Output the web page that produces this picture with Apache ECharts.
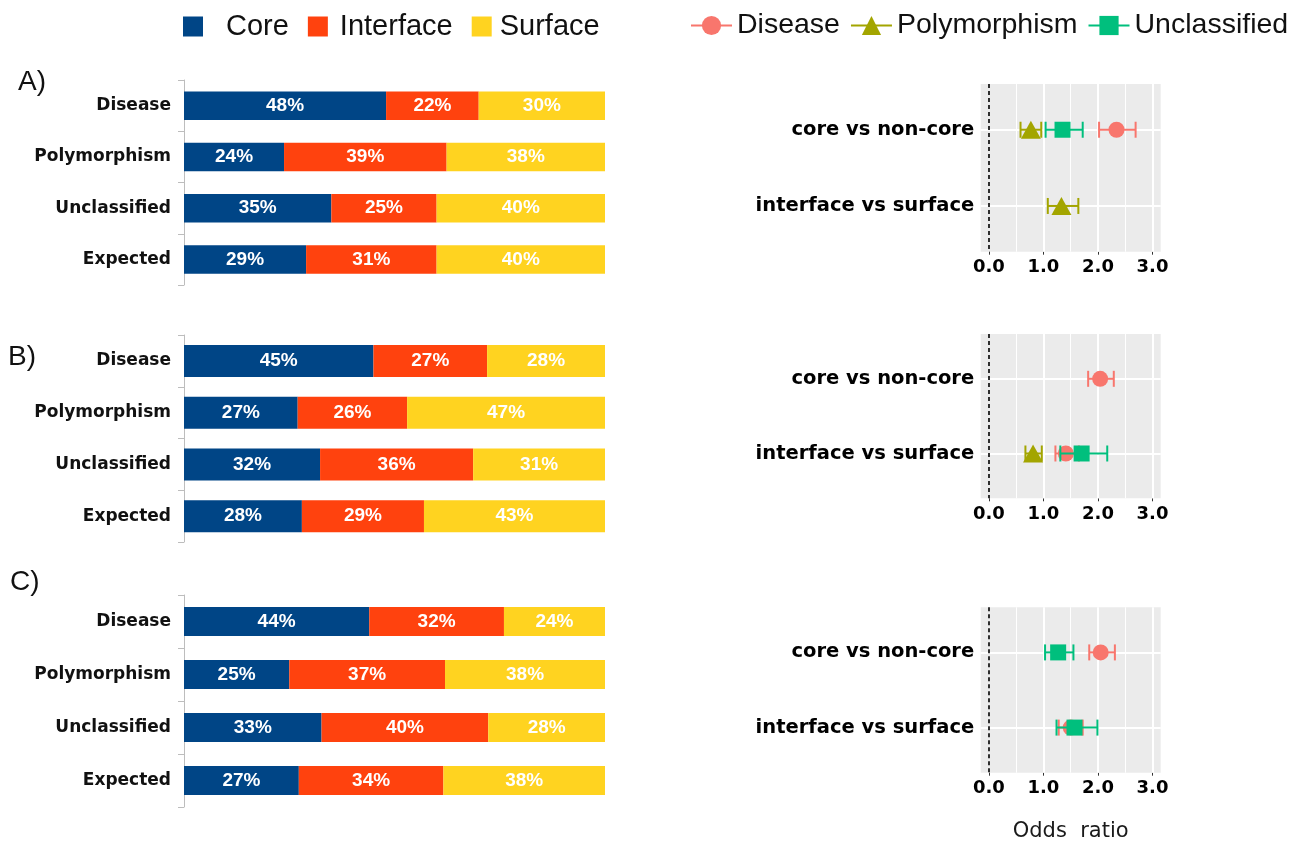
<!DOCTYPE html>
<html>
<head>
<meta charset="utf-8">
<title>Structural location and odds ratios</title>
<script src="https://cdn.jsdelivr.net/npm/echarts@6/dist/echarts.min.js"></script>
<style>
  html, body { margin: 0; padding: 0; background: #ffffff; }
  #chart { width: 1304px; height: 841px; }
</style>
</head>
<body>
<div id="chart"></div>
<script>
// Variant classes and structural locations
const barCategories = ['Disease', 'Polymorphism', 'Unclassified', 'Expected'];
const locationNames = ['Core', 'Interface', 'Surface'];

// A) share of each location (%)
const coreA = [48, 24, 35, 29];
const interfaceA = [22, 39, 25, 31];
const surfaceA = [30, 38, 40, 40];

// B) share of each location (%)
const coreB = [45, 27, 32, 28];
const interfaceB = [27, 26, 36, 29];
const surfaceB = [28, 47, 31, 43];

// C) share of each location (%)
const coreC = [44, 25, 33, 27];
const interfaceC = [32, 37, 40, 34];
const surfaceC = [24, 38, 28, 38];

// Odds ratios per comparison: [odds ratio, lower CI, upper CI], null when not shown
const comparisons = ['core vs non-core', 'interface vs surface'];
const oddsTicks = [0, 1, 2, 3];
const groupNames = ['Disease', 'Polymorphism', 'Unclassified'];

const diseaseA = [[2.34, 2.02, 2.69], null];
const polymorphismA = [[0.77, 0.58, 0.96], [1.33, 1.08, 1.64]];
const unclassifiedA = [[1.35, 1.04, 1.72], null];

const diseaseB = [[2.04, 1.82, 2.29], [1.41, 1.22, 1.65]];
const polymorphismB = [null, [0.81, 0.67, 0.97]];
const unclassifiedB = [null, [1.70, 1.31, 2.17]];

const diseaseC = [[2.05, 1.84, 2.31], [1.50, 1.28, 1.72]];
const polymorphismC = [null, null];
const unclassifiedC = [[1.27, 1.03, 1.55], [1.57, 1.24, 1.99]];

// ---- styling ----
const barColors = ['#004586', '#FF420E', '#FFD320'];
const groupColors = ['#F8766D', '#A3A500', '#00BF7D'];
const groupSymbols = ['circle', 'triangle', 'rect'];
const groupSymbolSizes = [16, [20, 18], 16];
const BOLD_FONT = 'DejaVu Sans';
const SANS = 'Liberation Sans';

const panels = [
  { tag: 'A)', tagX: 18, tagY: 82,
    bars: [coreA, interfaceA, surfaceA], groups: [diseaseA, polymorphismA, unclassifiedA],
    barTop: 80, barHeight: 205, barWidth: 28.5, forestTop: 84, forestHeight: 167.7 },
  { tag: 'B)', tagX: 8, tagY: 357,
    bars: [coreB, interfaceB, surfaceB], groups: [diseaseB, polymorphismB, unclassifiedB],
    barTop: 335, barHeight: 207, barWidth: 32, forestTop: 334, forestHeight: 164.3 },
  { tag: 'C)', tagX: 10, tagY: 582,
    bars: [coreC, interfaceC, surfaceC], groups: [diseaseC, polymorphismC, unclassifiedC],
    barTop: 595, barHeight: 212, barWidth: 29, forestTop: 607.3, forestHeight: 165.4 }
];

const FOREST_LEFT = 980.7;
const FOREST_WIDTH = 180;
const X_MIN = -0.15, X_MAX = 3.15;   // 0..3 with 5% padding
const Y_MIN = 0.4, Y_MAX = 2.6;      // two rows with 0.6 padding

function errorBarRenderer(color) {
  return function (params, api) {
    const row = api.value(2);
    const a = api.coord([api.value(0), row]);
    const b = api.coord([api.value(1), row]);
    const cap = 8;
    const style = { stroke: color, lineWidth: 2 };
    return {
      type: 'group',
      children: [
        { type: 'line', shape: { x1: a[0], y1: a[1], x2: b[0], y2: b[1] }, style: style },
        { type: 'line', shape: { x1: a[0], y1: a[1] - cap, x2: a[0], y2: a[1] + cap }, style: style },
        { type: 'line', shape: { x1: b[0], y1: b[1] - cap, x2: b[0], y2: b[1] + cap }, style: style }
      ]
    };
  };
}

const grid = [], xAxis = [], yAxis = [], series = [], graphic = [];

panels.forEach(function (p, pi) {
  const bi = 2 * pi, fi = 2 * pi + 1;

  // stacked 100% bar panel
  grid.push({ left: 184, width: 421, top: p.barTop, height: p.barHeight, outerBoundsMode: 'none' });
  xAxis.push({ gridIndex: bi, type: 'value', min: 0, max: 100, show: false });
  yAxis.push({
    gridIndex: bi, type: 'category', data: barCategories, inverse: true,
    axisLine: { show: true, lineStyle: { color: '#BDBDBD', width: 1 } },
    axisTick: { show: true, length: 6, lineStyle: { color: '#BDBDBD', width: 1 } },
    axisLabel: { margin: 13, fontFamily: BOLD_FONT, fontWeight: 'bold', fontSize: 17, color: '#111111' },
    splitLine: { show: false }
  });
  const totals = barCategories.map(function (_, i) {
    return p.bars[0][i] + p.bars[1][i] + p.bars[2][i];
  });
  p.bars.forEach(function (vals, k) {
    series.push({
      type: 'bar', name: locationNames[k], stack: 'share' + pi,
      xAxisIndex: bi, yAxisIndex: bi, barWidth: p.barWidth,
      itemStyle: { color: barColors[k] },
      data: vals.map(function (v, i) { return v / totals[i] * 100; }),
      label: {
        show: true, position: 'inside', color: '#ffffff',
        fontFamily: SANS, fontWeight: 'bold', fontSize: 19,
        formatter: function (prm) { return vals[prm.dataIndex] + '%'; }
      },
      emphasis: { disabled: true }, silent: true
    });
  });

  // odds ratio panel
  grid.push({
    left: FOREST_LEFT, width: FOREST_WIDTH, top: p.forestTop, height: p.forestHeight,
    show: true, backgroundColor: '#EBEBEB', borderWidth: 0, outerBoundsMode: 'none'
  });
  const lastPanel = pi === panels.length - 1;
  xAxis.push({
    gridIndex: fi, type: 'value', min: X_MIN, max: X_MAX,
    axisLine: { show: false }, splitLine: { show: false },
    axisTick: { show: true, customValues: oddsTicks, length: 3, lineStyle: { color: '#333333' } },
    axisLabel: {
      customValues: oddsTicks, margin: 7,
      fontFamily: BOLD_FONT, fontWeight: 'bold', fontSize: 18, color: '#000000',
      formatter: function (v) { return Number.isInteger(v) ? v.toFixed(1) : ''; }
    },
    name: lastPanel ? 'Odds  ratio' : '',
    nameLocation: 'middle', nameGap: 48, nameMoveOverlap: false,
    nameTextStyle: { fontFamily: 'DejaVu Sans', fontSize: 21, color: '#1a1a1a' }
  });
  yAxis.push({
    gridIndex: fi, type: 'value', min: Y_MIN, max: Y_MAX, inverse: true,
    axisLine: { show: false }, splitLine: { show: false },
    axisTick: { show: true, customValues: [1, 2], length: 3, lineStyle: { color: '#333333' } },
    axisLabel: {
      customValues: [1, 2], margin: 6.5,
      fontFamily: BOLD_FONT, fontWeight: 'bold', fontSize: 19.5, color: '#000000',
      formatter: function (v) { return (Number.isInteger(v) && comparisons[v - 1]) || ''; }
    }
  });

  // panel grid lines and the dashed reference line
  const gridLines = [];
  [0.5, 1.5, 2.5].forEach(function (x) {
    gridLines.push({ xAxis: x, lineStyle: { color: '#ffffff', width: 1, type: 'solid' } });
  });
  [1, 2, 3].forEach(function (x) {
    gridLines.push({ xAxis: x, lineStyle: { color: '#ffffff', width: 2, type: 'solid' } });
  });
  comparisons.forEach(function (_, r) {
    gridLines.push({ yAxis: r + 1, lineStyle: { color: '#ffffff', width: 2, type: 'solid' } });
  });
  gridLines.push({ xAxis: 0, lineStyle: { color: '#000000', width: 1.6, type: [4, 3] } });
  series.push({
    type: 'line', name: 'grid' + pi, xAxisIndex: fi, yAxisIndex: fi, data: [], z: 1,
    silent: true,
    markLine: { z: 1, silent: true, symbol: 'none', label: { show: false }, animation: false, data: gridLines }
  });

  p.groups.forEach(function (rows, g) {
    const present = [];
    rows.forEach(function (r, ri) { if (r) present.push([r, ri + 1]); });
    series.push({
      type: 'custom', name: groupNames[g] + ' CI', xAxisIndex: fi, yAxisIndex: fi,
      coordinateSystem: 'cartesian2d', z: 10 + 2 * g, silent: true,
      renderItem: errorBarRenderer(groupColors[g]),
      encode: { x: [0, 1], y: 2 },
      data: present.map(function (e) { return [e[0][1], e[0][2], e[1]]; })
    });
    series.push({
      type: 'line', name: groupNames[g], xAxisIndex: fi, yAxisIndex: fi,
      z: 11 + 2 * g, silent: true, color: groupColors[g],
      symbol: groupSymbols[g], symbolSize: groupSymbolSizes[g], showSymbol: true,
      itemStyle: { color: groupColors[g], opacity: 1 },
      lineStyle: { width: 2, opacity: 0 },
      emphasis: { disabled: true },
      data: present.map(function (e) { return [e[0][0], e[1]]; })
    });
  });

  graphic.push({
    type: 'text', x: p.tagX, y: p.tagY, silent: true,
    style: { text: p.tag, fontFamily: SANS, fontSize: 28, fill: '#111111', textVerticalAlign: 'middle' }
  });
});

const option = {
  animation: false,
  backgroundColor: '#ffffff',
  textStyle: { fontFamily: 'DejaVu Sans' },
  legend: [
    {
      left: 183, top: 12, padding: 0, itemWidth: 20, itemHeight: 20, itemGap: 19, icon: 'rect',
      selectedMode: false,
      textStyle: { fontFamily: SANS, fontSize: 29, color: '#111111' },
      data: [
        { name: locationNames[0], textStyle: { padding: [8, 0, 0, 18] } },
        { name: locationNames[1], textStyle: { padding: [8, 0, 0, 7] } },
        { name: locationNames[2], textStyle: { padding: [8, 0, 0, 3] } }
      ]
    },
    {
      left: 690, top: 11, padding: 0, itemWidth: 41, itemHeight: 24, itemGap: 10,
      selectedMode: false,
      lineStyle: { width: 2, opacity: 1 },
      textStyle: { fontFamily: SANS, fontSize: 28.5, color: '#111111' },
      data: groupNames
    }
  ],
  grid: grid,
  xAxis: xAxis,
  yAxis: yAxis,
  series: series,
  graphic: graphic
};

const chart = echarts.init(document.getElementById('chart'), null, { renderer: 'canvas' });
chart.setOption(option);
</script>
</body>
</html>
